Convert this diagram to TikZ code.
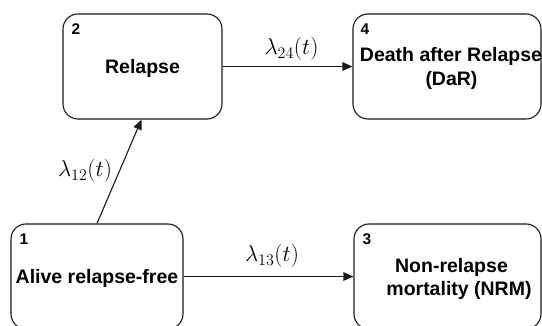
\RequirePackage{fix-cm}
\documentclass[tikz,border=0pt]{standalone}
\usepackage{fontspec}
\newfontfamily\boxfont{Liberation Sans}
\usetikzlibrary{arrows.meta}
\begin{document}
\begin{tikzpicture}[x=1pt,y=-1pt,
  state/.style={draw=black!90, line width=1.1pt, rounded corners=15pt, inner sep=0pt},
  lbl/.style={font=\boxfont\bfseries\fontsize{19.5}{24}\selectfont, inner sep=0pt, anchor=base},
  num/.style={font=\boxfont\bfseries\fontsize{15.5}{18}\selectfont, inner sep=0pt, anchor=north west},
  rate/.style={font=\fontsize{23}{27}\selectfont, inner sep=0pt, anchor=base},
  trans/.style={draw=black!90, line width=1.1pt, -{Triangle[length=10pt,width=8.5pt]}}]
\useasboundingbox (0,0) rectangle (542,326);

% states
\node[state, minimum width=172pt, minimum height=105pt] (s1) at (97,276.5) {};
\node[state, minimum width=159pt, minimum height=105pt] (s2) at (142.5,66.5) {};
\node[state, minimum width=187pt, minimum height=105pt] (s3) at (447.5,276.5) {};
\node[state, minimum width=188pt, minimum height=105pt] (s4) at (447,66.5) {};

% numbers
\node[num] (n1) at ([shift={(9,10)}]s1.north west) {1};
\node[num] (n2) at ([shift={(9,10)}]s2.north west) {2};
\node[num] (n3) at ([shift={(9,10)}]s3.north west) {3};
\node[num] (n4) at ([shift={(8,10)}]s4.north west) {4};

% texts
\node[lbl] (t1) at (97,284) {Alive relapse-free};
\node[lbl] (t2) at (142.5,74) {Relapse};
\node[lbl] (t3a) at (451.5,273) {Non-relapse};
\node[lbl] (t3b) at (459,296) {mortality (NRM)};
\node[lbl] (t4a) at (451,62) {Death after Relapse};
\node[lbl] (t4b) at (451.5,86) {(DaR)};

% transitions
\draw[trans] (s2.east) -- (s4.west);
\draw[trans] (s1.east) -- (s3.west);
\draw[trans] (s1.north) -- ([xshift=-1pt]s2.south);

% rates
\node[rate] (r24) at (291.5,55) {$\lambda_{24}(t)$};
\node[rate] (r13) at (272,262) {$\lambda_{13}(t)$};
\node[rate] (r12) at (85,177) {$\lambda_{12}(t)$};
\end{tikzpicture}
\end{document}
